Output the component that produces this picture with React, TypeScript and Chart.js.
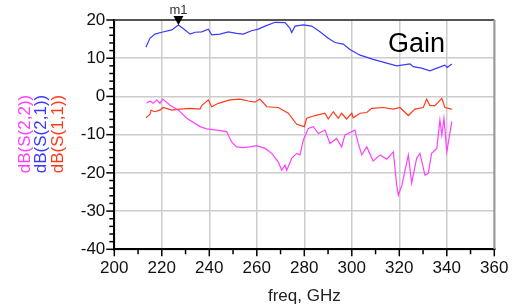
import React, { useEffect, useRef } from "react";
import { Chart, registerables } from "chart.js";

Chart.register(...registerables);

const s21Freq = [213.3,215,217.1,220,224.2,227,229.8,231.9,234,236.8,239.6,241,244.5,248,251.5,254.3,257.8,260.6,263.5,267.7,271.9,274,274.7,276.1,279.6,283.1,286.6,290.1,292.9,296.4,299.2,303.5,309,314.7,318.9,324.5,325.9,329.4,332.9,335.8,339.2,340.2,342.1];
const s21 = [12.9,15.2,16.3,16.8,17.4,18.7,17.4,16.3,16.8,16.9,17.6,16.1,16.3,16.9,16.5,16.3,17.2,17.6,18.4,19.4,19.3,17.8,16.7,18.4,18.7,18.4,16.9,15.2,14.1,13.7,12.3,10.8,9.7,8.7,8.0,8.5,7.8,7.4,6.7,7.4,8.2,7.6,8.5];

const s11Freq = [213.3,215,215.5,217.1,219.2,220.6,224.2,227.7,231.9,236.1,236.8,239.6,241,243.8,248.7,252.9,256.4,259.2,261.3,264.2,269,273.3,276.8,280,281,284.5,288.7,290.1,292.2,294.3,295.7,297.8,300,300.6,303.5,306.3,308.4,313.3,317.5,320.3,323.8,326.6,330.1,331.5,332.9,335,337.9,339.2,342.1];
const s11 = [-5.6,-4.7,-3.6,-4.0,-3.6,-2.9,-3.6,-3.3,-3.1,-3.3,-2.4,-0.9,-2.7,-1.8,-0.9,-0.7,-1.2,-1.5,-0.7,-2.7,-2.9,-4.4,-7.3,-7.9,-5.7,-5.0,-4.4,-5.9,-4.0,-5.7,-4.4,-5.9,-4.4,-5.6,-4.4,-4.2,-3.1,-2.9,-3.3,-2.9,-5.0,-3.3,-2.9,-0.7,-2.4,-2.4,-0.5,-2.9,-3.3];

const s22Freq = [213.6,215,216.4,217.9,219.2,220.4,223.5,227,230.5,236.1,238.9,243.1,247.3,249.4,251.5,254.3,257.1,260,263.5,266.3,269,270.5,271.9,272.6,274.7,276.8,278.2,279.6,281.7,283.8,285.9,288.7,290.8,293.6,295.7,297.1,298.5,300,301.3,302.7,304.2,306.3,309,311.9,314.7,317.5,318.9,319.6,321.1,323.8,325.2,327.3,328.7,330.8,332.2,333.6,335.8,337.1,337.9,338.8,340,342.1];
const s22 = [-1.8,-1.2,-1.8,-0.9,-1.8,-0.7,-2.3,-3.6,-5.7,-7.9,-8.5,-8.8,-9.2,-11.9,-13.2,-13.4,-13.2,-12.9,-13.6,-14.9,-17.1,-19.3,-18.0,-19.3,-16.2,-14.9,-15.3,-11.4,-8.4,-7.9,-9.7,-8.8,-12.3,-11.0,-13.2,-10.1,-9.7,-9.2,-8.8,-12.3,-15.3,-13.2,-16.9,-15.3,-16.4,-14.5,-23.2,-25.8,-23.2,-15.3,-22.7,-16.2,-14.9,-20.6,-20.1,-14.9,-13.6,-6.2,-10.1,-5.7,-14.5,-6.6];

const seriesLabels = ["dB(S(2,2))", "dB(S(2,1))", "dB(S(1,1))"];
const seriesColors = ["#ff40ff", "#3a3aff", "#ff3a1a"];
const markerName = "m1";
const markerFreq = 227;
const titleText = "Gain";
const xTitle = "freq, GHz";

const FONT = "'Liberation Sans', Arial, sans-serif";

const toPts = (xs: number[], ys: number[]) => xs.map((x, i) => ({ x, y: ys[i] }));

const decorPlugin = {
  id: "decor",
  afterDraw(chart: any) {
    const { ctx, chartArea: ca, scales } = chart;
    const xs = scales.x;
    const ys = scales.y;
    ctx.save();
    // top & right border
    ctx.lineWidth = 2;
    ctx.strokeStyle = "#555";
    ctx.beginPath();
    ctx.moveTo(ca.left, ca.top);
    ctx.lineTo(ca.right, ca.top);
    ctx.stroke();
    ctx.strokeStyle = "#999";
    ctx.beginPath();
    ctx.moveTo(ca.right, ca.top);
    ctx.lineTo(ca.right, ca.bottom);
    ctx.stroke();
    // ticks
    ctx.strokeStyle = "#000";
    ctx.lineWidth = 1.5;
    for (let v = -40; v <= 20; v += 2) {
      const y = ys.getPixelForValue(v);
      const major = v % 10 === 0;
      ctx.beginPath();
      ctx.moveTo(ca.left - (major ? 8 : 5), y);
      ctx.lineTo(ca.left, y);
      ctx.stroke();
    }
    for (let v = 200; v <= 360; v += 10) {
      const x = xs.getPixelForValue(v);
      const major = v % 20 === 0;
      ctx.beginPath();
      ctx.moveTo(x, ca.bottom);
      ctx.lineTo(x, ca.bottom + (major ? 7 : 5));
      ctx.stroke();
    }
    // x title
    ctx.fillStyle = "#222";
    ctx.font = `17px ${FONT}`;
    ctx.textAlign = "center";
    ctx.textBaseline = "middle";
    ctx.fillText(xTitle, (ca.left + ca.right) / 2, 296);
    // Gain
    ctx.fillStyle = "#000";
    ctx.font = `27px ${FONT}`;
    ctx.textAlign = "left";
    ctx.textBaseline = "alphabetic";
    ctx.fillText(titleText, 388, 52);
    // rotated series labels
    ctx.font = `17px ${FONT}`;
    const centers = [25, 41, 58];
    seriesLabels.forEach((t, i) => {
      ctx.save();
      ctx.translate(centers[i], 134);
      ctx.rotate(-Math.PI / 2);
      ctx.fillStyle = seriesColors[i];
      ctx.textAlign = "center";
      ctx.textBaseline = "middle";
      ctx.fillText(t, 0, 0);
      ctx.restore();
    });
    // marker
    const idx = s21Freq.indexOf(markerFreq);
    const mx = xs.getPixelForValue(markerFreq);
    const my = ys.getPixelForValue(s21[idx]);
    ctx.fillStyle = "#000";
    ctx.beginPath();
    ctx.moveTo(mx, my);
    ctx.lineTo(mx - 5, my - 9);
    ctx.lineTo(mx + 5, my - 9);
    ctx.closePath();
    ctx.fill();
    ctx.fillStyle = "#333";
    ctx.font = `13px ${FONT}`;
    ctx.textAlign = "center";
    ctx.textBaseline = "middle";
    ctx.fillText(markerName, mx, my - 15);
    ctx.restore();
  },
};

export default function App() {
  const ref = useRef<HTMLCanvasElement | null>(null);
  useEffect(() => {
    if (!ref.current) return;
    const chart = new Chart(ref.current, {
      type: "line",
      data: {
        datasets: [
          { label: seriesLabels[0], data: toPts(s22Freq, s22), borderColor: seriesColors[0], borderWidth: 1.2, pointRadius: 0, fill: false },
          { label: seriesLabels[1], data: toPts(s21Freq, s21), borderColor: seriesColors[1], borderWidth: 1.2, pointRadius: 0, fill: false },
          { label: seriesLabels[2], data: toPts(s11Freq, s11), borderColor: seriesColors[2], borderWidth: 1.2, pointRadius: 0, fill: false },
        ],
      },
      options: {
        animation: false,
        responsive: true,
        maintainAspectRatio: false,
        layout: { padding: { top: 20, right: 24.7, left: 0, bottom: 0 } },
        plugins: { legend: { display: false }, tooltip: { enabled: false } },
        scales: {
          x: {
            type: "linear",
            min: 200,
            max: 360,
            afterFit: (s: any) => { s.height = 58.7; },
            ticks: { stepSize: 20, maxRotation: 0, autoSkip: false, padding: 9, color: "#111", font: { family: FONT, size: 17 } },
            grid: { color: "#cccccc", lineWidth: 1.5, drawTicks: false },
            border: { color: "#000", width: 2 },
          },
          y: {
            min: -40,
            max: 20,
            afterFit: (s: any) => { s.width = 114.3; },
            ticks: { stepSize: 10, padding: 9, color: "#111", font: { family: FONT, size: 17 } },
            grid: { color: "#cccccc", lineWidth: 1.5, drawTicks: false },
            border: { color: "#000", width: 2 },
          },
        },
      },
      plugins: [decorPlugin],
    });
    return () => chart.destroy();
  }, []);
  return (
    <div style={{ position: "absolute", left: 0, top: 0, width: 519, height: 308, background: "#fff" }}>
      <canvas ref={ref} />
    </div>
  );
}
